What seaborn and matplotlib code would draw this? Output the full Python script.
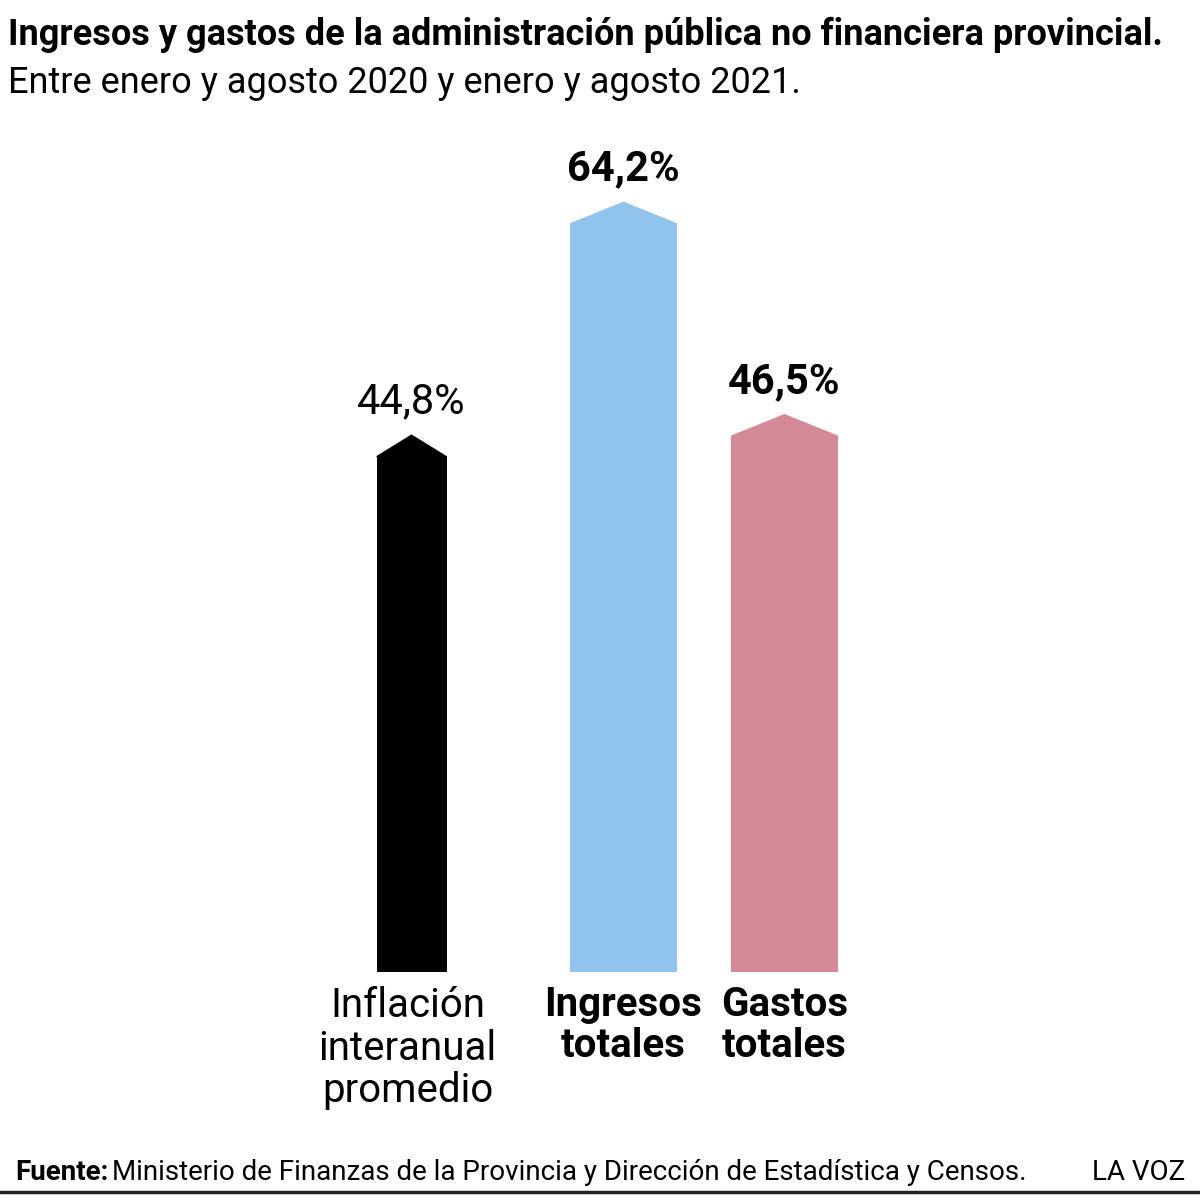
import matplotlib
matplotlib.use("Agg")
import matplotlib.pyplot as plt
from matplotlib.patches import Polygon
import seaborn as sns

# %% data
categories = ["Inflación\ninteranual\npromedio", "Ingresos\ntotales", "Gastos\ntotales"]
values = [44.8, 64.2, 46.5]
value_labels = ["44,8%", "64,2%", "46,5%"]
colors = ["#000000", "#90C4EC", "#D48A96"]
bold = [False, True, True]

title = "Ingresos y gastos de la administración pública no financiera provincial."
subtitle = "Entre enero y agosto 2020 y enero y agosto 2021."
source_bold = "Fuente:"
source = "Ministerio de Finanzas de la Provincia y Dirección de Estadística y Censos."
brand = "LA VOZ"

# %% layout (pixel-ish x positions, not data)
centers = [411.5, 623.5, 784.5]
widths = [70, 107, 107]
tip = 1.8  # arrow tip height in value units

sns.set_theme(style="white")
plt.rcParams["font.family"] = ["Roboto", "DejaVu Sans"]
plt.rcParams["text.color"] = "black"

fig = plt.figure(figsize=(12, 12), dpi=100)
ax = fig.add_axes([0, (1200 - 972) / 1200, 1, 872 / 1200])

body = [v - tip for v in values]
sns.barplot(x=centers, y=body, hue=centers, palette=colors, native_scale=True,
            dodge=False, legend=False, ax=ax, saturation=1, width=50)

for p, c, w, v, col in zip(sorted(ax.patches, key=lambda q: q.get_x()), centers, widths, values, colors):
    p.set_x(c - w / 2)
    p.set_width(w)
    p.set_linewidth(0)
    h = v - tip - 0.1
    ax.add_patch(Polygon([(c - w / 2, h), (c - w / 2, h + 0.1), (c, v), (c + w / 2, h + 0.1), (c + w / 2, h)],
                         closed=True, facecolor=col, edgecolor="none"))

ax.set_xlim(0, 1200)
ax.set_ylim(0, 872 / 12.0)
ax.axis("off")

for c, v, lab, b in zip(centers, values, value_labels, bold):
    ax.text(c, v + 1.0, lab, ha="center", va="bottom", fontsize=30,
            fontweight="bold" if b else "normal", color="black")

for c, cat, b in zip(centers, categories, bold):
    ax.text(c - 4 if not b else c, -1.2, cat, ha="center", va="top", fontsize=29,
            linespacing=1.1, fontweight="bold" if b else "normal", color="black")

fig.text(8 / 1200, 1 - 45 / 1200, title, fontsize=26, fontweight="bold", ha="left",
         va="baseline", color="black")
fig.text(8 / 1200, 1 - 93 / 1200, subtitle, fontsize=26, ha="left", va="baseline", color="black")

t = fig.text(15 / 1200, 1 - 1180 / 1200, source_bold, fontsize=20, fontweight="bold",
             ha="left", va="baseline", color="black")
fig.canvas.draw()
bb = t.get_window_extent()
fig.text((bb.x1 + 4) / 1200, 1 - 1180 / 1200, source, fontsize=20, ha="left", va="baseline",
         color="black")
fig.text(1185 / 1200, 1 - 1180 / 1200, brand, fontsize=20, ha="right", va="baseline", color="black")
fig.add_artist(plt.Line2D([0, 1], [1 - 1192 / 1200] * 2, color="#222222", lw=2.5))

fig.savefig("out.png", dpi=100, facecolor="white")
